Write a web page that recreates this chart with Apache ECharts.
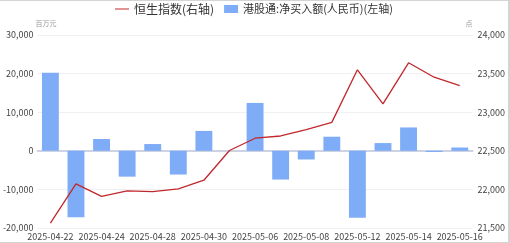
<!DOCTYPE html>
<html><head><meta charset="utf-8">
<script src="https://cdn.jsdelivr.net/npm/echarts@6/dist/echarts.min.js"></script>
<style>html,body{margin:0;padding:0;background:#fff;}
#wrap{position:absolute;left:0;top:0;width:508px;height:241px;border-top:1px solid #d4d4d4;border-right:2px solid #d4d4d4;border-bottom:2px solid #d4d4d4;}
#c{width:508px;height:241px;}</style>
</head><body><div id="wrap"><div id="c"></div></div>
<script>
var categories = ['2025-04-22','2025-04-23','2025-04-24','2025-04-25','2025-04-28','2025-04-29','2025-04-30','2025-05-02','2025-05-06','2025-05-07','2025-05-08','2025-05-09','2025-05-12','2025-05-13','2025-05-14','2025-05-15','2025-05-16'];
var hsi = [21562,22072,21909,21980,21971,22008,22119,22504,22663,22692,22775,22868,23549,23108,23640,23453,23345];
var southbound = [20200,-17200,3050,-6700,1750,-6150,5150,null,12400,-7450,-2250,3650,-17350,2000,6050,-300,850];
var leftTicks = {min:-20000,max:30000,interval:10000};
var rightTicks = {min:21500,max:24000,interval:500};
var nameLine = '恒生指数(右轴)';
var nameBar = '港股通:净买入额(人民币)(左轴)';

var chart = echarts.init(document.getElementById('c'));
var fontF = '"Noto Sans CJK SC","Noto Sans",sans-serif';
chart.setOption({
  animation:false,
  textStyle:{fontFamily:fontF},
  legend:{top:-3,left:'center',itemGap:10,itemWidth:14,itemHeight:8,
    textStyle:{fontSize:12,color:'#333',fontFamily:fontF},
    data:[{name:nameLine,icon:'path://M0,3.5L14,3.5L14,4.5L0,4.5Z'},
          {name:nameBar,icon:'rect',textStyle:{fontSize:11}}]},
  grid:{left:30,right:33,top:34,bottom:14,containLabel:false},
  xAxis:{type:'category',data:categories,
    axisLine:{lineStyle:{color:'#cdd3e3',width:2}},
    axisTick:{show:false},
    axisLabel:{interval:1,fontSize:9,color:'#444',margin:4,fontFamily:fontF}},
  yAxis:[
    {type:'value',min:leftTicks.min,max:leftTicks.max,interval:leftTicks.interval,
     name:'百万元',nameTextStyle:{fontSize:7,color:'#999',align:'left',padding:[0,0,0,-2]},nameGap:8,
     splitLine:{lineStyle:{color:'#f0f0f3'}},axisLine:{show:false},axisTick:{show:false},
     axisLabel:{fontSize:9,color:'#444',margin:4,formatter:function(v){return v.toLocaleString('en-US');}}},
    {type:'value',min:rightTicks.min,max:rightTicks.max,interval:rightTicks.interval,position:'right',
     name:'点',nameTextStyle:{fontSize:7,color:'#999',align:'right',padding:[0,0,0,0]},nameGap:8,
     splitLine:{show:false},axisLine:{show:false},axisTick:{show:false},
     axisLabel:{fontSize:9,color:'#444',margin:5,formatter:function(v){return v.toLocaleString('en-US');}}}
  ],
  series:[
    {name:nameLine,type:'line',yAxisIndex:1,data:hsi,symbol:'none',z:3,
     lineStyle:{color:'#c0282d',width:1.3},itemStyle:{color:'#c0282d'}},
    {name:nameBar,type:'bar',yAxisIndex:0,data:southbound,barWidth:'66%',z:2,
     itemStyle:{color:'#7eacf6'}}
  ]
});
</script></body></html>
